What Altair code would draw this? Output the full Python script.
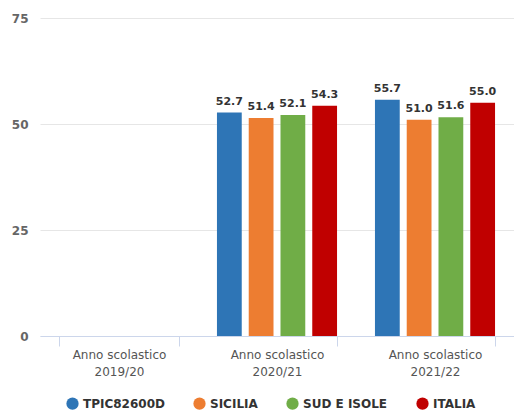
import altair as alt
import pandas as pd

years = ["2019/20", "2020/21", "2021/22"]
series = ["TPIC82600D", "SICILIA", "SUD E ISOLE", "ITALIA"]
colors = ["#2e75b6", "#ed7d31", "#70ad47", "#c00000"]
vals_2020 = [52.7, 51.4, 52.1, 54.3]
vals_2021 = [55.7, 51.0, 51.6, 55.0]

rows = []
for s, v in zip(series, vals_2020):
    rows.append({"anno": "2020/21", "serie": s, "valore": v})
for s, v in zip(series, vals_2021):
    rows.append({"anno": "2021/22", "serie": s, "valore": v})
df = pd.DataFrame(rows)

FONT = "DejaVu Sans"

x = alt.X("anno:N", scale=alt.Scale(domain=years, paddingInner=0.24, paddingOuter=0.12),
          axis=alt.Axis(title=None, labelAngle=0,
                        labelExpr="datum.label ? ['Anno scolastico', datum.label] : ''",
                        labelFlush=False, labelOverlap=False,
                        tickBand="extent", tickSize=10, tickColor="#ccd6eb", domainColor="#ccd6eb",
                        labelColor="#555", labelFontSize=12, labelFont=FONT, labelPadding=3,
                        labelLineHeight=17))
xo = alt.XOffset("serie:N", scale=alt.Scale(domain=series, paddingInner=0.22, paddingOuter=0))
y = alt.Y("valore:Q", scale=alt.Scale(domain=[0, 75], nice=False),
          axis=alt.Axis(title=None, values=[0, 25, 50, 75], domain=False, ticks=False,
                        gridColor="#e6e6e6", labelColor="#666", labelFontSize=12,
                        labelFont=FONT, labelFontWeight="bold", labelPadding=12))

bars = alt.Chart(df).mark_bar().encode(
    x=x, xOffset=xo, y=y,
    color=alt.Color("serie:N", scale=alt.Scale(domain=series, range=colors),
                    legend=alt.Legend(title=None, orient="none", legendX=26, legendY=379,
                                      direction="horizontal",
                                      symbolType="circle", symbolSize=150, labelFontSize=12,
                                      labelFont=FONT, labelFontWeight="bold", labelColor="#333",
                                      columnPadding=28, symbolStrokeWidth=0)),
)
text = alt.Chart(df).mark_text(dy=-11, fontSize=11, fontWeight="bold", font=FONT, color="#333").encode(
    x=x, xOffset=xo, y=y, text=alt.Text("valore:Q", format=".1f"))

chart = alt.layer(bars, text).properties(
    width=474, height=318,
    autosize=alt.AutoSizeParams(type="none"),
    padding={"left": 32, "top": 10, "right": 0, "bottom": 80},
).configure_view(stroke=None)

chart.save("out.html", embed_options={"renderer": "svg", "actions": False})
